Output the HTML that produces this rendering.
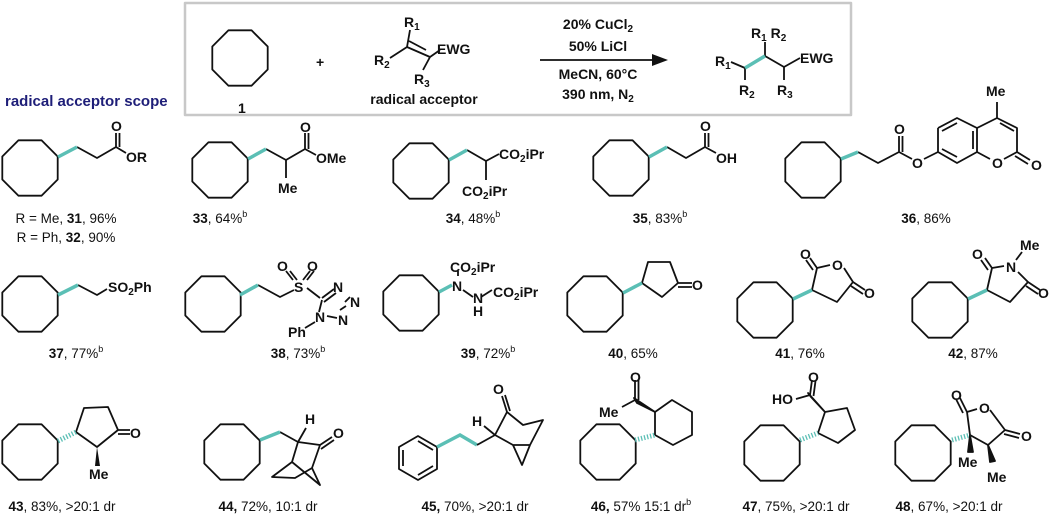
<!DOCTYPE html>
<html><head><meta charset="utf-8"><style>
html,body{margin:0;padding:0;background:#fff;}
svg{display:block;}
text{font-family:"Liberation Sans",Arial,sans-serif;fill:#111;}
.a{font-weight:bold;font-size:14px;}
.l{font-size:13.5px;}
.b{font-weight:bold;}
</style></head><body>
<svg width="1052" height="518" viewBox="0 0 1052 518" xmlns="http://www.w3.org/2000/svg">
<defs>
<polygon id="o" points="27.7,-11.5 11.5,-27.7 -11.5,-27.7 -27.7,-11.5 -27.7,11.5 -11.5,27.7 11.5,27.7 27.7,11.5" fill="none" stroke="#111" stroke-width="1.8"/>
</defs>
<g fill="none" stroke="#111" stroke-width="1.8" stroke-linejoin="round">
<rect x="185" y="3" width="666" height="112" stroke="#c8c8c8" stroke-width="2.5"/>
<use href="#o" x="240" y="58"/>
<path d="M390,58 L407,47 L430,57 L440,50 M407,47 L410,30 M430,57 L423,70 M409,41 L426,50"/>
<path d="M540,60 L655,60"/>
<path d="M731,62 L745,68 M745,68 L745,80 M765,56 L784,67 L800,58 M765,56 L765,42 M784,67 L784,80"/>
<path d="M745,68 L765,56" stroke="#5bbfb5" stroke-width="3.5"/>

<use href="#o" x="30" y="168"/>
<path d="M77,147 L97,158 L116,147 L126,153 M116,147 L116,133 M119.5,147 L119.5,133"/>
<use href="#o" x="220" y="170"/>
<path d="M266,149 L286,160 L305,149 L316,155 M286,160 L286,178 M305,149 L305,133 M308.5,149 L308.5,133"/>
<use href="#o" x="421" y="171"/>
<path d="M467,150 L486,161 L499,154 M486,161 L486,180"/>
<use href="#o" x="621" y="168"/>
<path d="M667,147 L686,158 L705,147 L716,153 M705,147 L705,133 M708.5,147 L708.5,133"/>
<use href="#o" x="813" y="170"/>
<path d="M858,152 L878,163 L899,152 L912,159 M899,152 L899,136 M902.5,152 L902.5,136 M924,159 L938,152"/>
<path d="M938,128 L957,118 L977,128 L977,152 L957,163 L938,152 L938,128 M942,131 L957,123 M973,131 L973,149 M942,149 L957,157"/>
<path d="M977,128 L997,118 L1017,128 L1017,152 L1004,159 M990,159 L977,152 M997,118 L997,102 M1000,123 L1014,131 M1017,152 L1030,160 M1015,156 L1028,164"/>

<use href="#o" x="30" y="304"/>
<path d="M78,285 L97,295 L107,289"/>
<use href="#o" x="213" y="304"/>
<path d="M258,285 L280,297 L294,290 M307,288 L320,298 M293,280 L286,271 M297,280 L290,271 M303,280 L310,271 M307,280 L314,271"/>
<path d="M322,298 L334,289 M324,302 L336,293 M322,300 L319,312 M327,316 L337,318 M345,302 L350,297 M340,310 L346,306 M315,322 L305,328"/>
<use href="#o" x="411" y="303"/>
<path d="M458,276 L458,271 M463,290 L473,297 M481,297 L492,290"/>
<use href="#o" x="595" y="304"/>
<path d="M642,283 L648,262 L670,262 L678,283 L662,297 L642,283 M678,283 L692,283 M678,287 L692,287"/>
<use href="#o" x="765" y="310"/>
<path d="M812,290 L817,268 L830,265 M844,268 L853,282 L837,302 L812,290 M817,268 L810,258 M813,270 L806,260 M853,282 L865,290 M851,286 L863,294"/>
<use href="#o" x="940" y="310"/>
<path d="M987,290 L992,268 L1004,266 M1018,272 L1028,282 L1010,302 L987,290 M992,268 L985,258 M988,270 L981,260 M1028,282 L1040,290 M1026,286 L1038,294 M1016,260 L1022,252"/>

<use href="#o" x="30" y="452"/>
<path d="M76,432 L84,408 L108,407 L118,430 L97,447 L76,432 M118,430 L130,430 M118,434 L130,434"/>
<use href="#o" x="232" y="452"/>
<path d="M280,432 L298,442 L306,428 M298,442 L320,445 L332,437 M321,449 L334,440 M298,442 L292,462 M320,445 L312,468 M292,462 L272,477 L295,478 L312,468 M292,462 L320,485 L312,468"/>
<polygon points="418,436 437,447 437,469 418,480 399,469 399,447"/>
<path d="M418,441 L433,450 M433,466 L418,475 M403,466 L403,450"/>
<path d="M495,435 L484,426 M495,435 L507,412 M507,412 L502,396 M510,411 L505,395 M507,412 L523,425 L543,420 L530,445 M495,435 L513,445 L530,445 M513,445 L522,465 L530,445"/>
<use href="#o" x="608" y="452"/>
<path d="M655,435 L655,412 L672,400 L692,412 L692,435 L673,445 L655,435 M635,400 L635,380 M638.5,400 L638.5,380 M635,400 L622,407"/>
<polygon points="655,412 634,398 637,403" fill="#111"/>
<use href="#o" x="772" y="453"/>
<path d="M818,433 L825,412 L847,408 L855,430 L838,443 L818,433 M810,395 L812,380 M813.5,396 L815.5,381 M810,395 L796,399"/>
<polygon points="825,412 808,393 811,397" fill="#111"/>
<use href="#o" x="923" y="453"/>
<path d="M970,435 L967,412 L977,409 M990,410 L1005,430 L988,445 L970,435 M967,412 L960,398 M963,413 L956,399 M1005,430 L1020,434 M1004,434 L1019,438"/>
<polygon points="970,435 968,452 973,452" fill="#111"/>
<polygon points="988,445 990,462 995,461" fill="#111"/>
</g>
<g stroke="#5bbfb5" stroke-width="3.5" fill="none">
<path d="M58,157 L77,147 M248,159 L266,149 M449,160 L467,150 M649,157 L667,147 M841,159 L858,152"/>
<path d="M58,295 L78,285 M240,295 L258,285 M439,292 L452,285 M623,293 L642,283 M793,299 L812,290 M968,299 L987,290"/>
<path d="M260,440 L280,432 M437,447 L460,435 L477,445" />
</g>
<path d="M477,445 L495,435" stroke="#111" stroke-width="1.8" fill="none"/>
<g stroke="#5bbfb5" stroke-width="5" fill="none" stroke-dasharray="1.3,1.8">
<path d="M58,441 L76,432 M635,440 L655,435 M800,440 L818,433 M952,440 L970,435"/>
</g>
<polygon points="97,447 95,466 100,466" fill="#111"/>
<polygon points="668,60 652,54 652,66" fill="#111"/>

<text class="a" x="316" y="67" font-size="16">+</text>
<text class="a" x="238" y="113">1</text>
<text class="a" x="404" y="27">R<tspan font-size="10" dy="3">1</tspan></text>
<text class="a" x="374" y="65">R<tspan font-size="10" dy="3">2</tspan></text>
<text class="a" x="437" y="54">EWG</text>
<text class="a" x="414" y="84">R<tspan font-size="10" dy="3">3</tspan></text>
<text class="a" x="424" y="104" text-anchor="middle">radical acceptor</text>
<text class="a" x="598" y="29" text-anchor="middle">20% CuCl<tspan font-size="10" dy="3">2</tspan></text>
<text class="a" x="598" y="51" text-anchor="middle">50% LiCl</text>
<text class="a" x="598" y="79" text-anchor="middle">MeCN, 60°C</text>
<text class="a" x="598" y="99" text-anchor="middle">390 nm, N<tspan font-size="10" dy="3">2</tspan></text>
<text class="a" x="715" y="66">R<tspan font-size="10" dy="3">1</tspan></text>
<text class="a" x="751" y="38">R<tspan font-size="10" dy="3">1</tspan><tspan dy="-3"> R</tspan><tspan font-size="10" dy="3">2</tspan></text>
<text class="a" x="800" y="63">EWG</text>
<text class="a" x="739" y="95">R<tspan font-size="10" dy="3">2</tspan></text>
<text class="a" x="777" y="95">R<tspan font-size="10" dy="3">3</tspan></text>
<text x="5" y="106" font-weight="bold" font-size="15" style="fill:#1e1e78">radical acceptor scope</text>

<text class="a" x="111" y="131">O</text>
<text class="a" x="126" y="162">OR</text>
<text class="a" x="300" y="132">O</text>
<text class="a" x="316" y="163">OMe</text>
<text class="a" x="278" y="193">Me</text>
<text class="a" x="499" y="159">CO<tspan font-size="10" dy="3">2</tspan><tspan dy="-3">iPr</tspan></text>
<text class="a" x="462" y="196">CO<tspan font-size="10" dy="3">2</tspan><tspan dy="-3">iPr</tspan></text>
<text class="a" x="700" y="131">O</text>
<text class="a" x="716" y="163">OH</text>
<text class="a" x="894" y="134">O</text>
<text class="a" x="912" y="168">O</text>
<text class="a" x="992" y="168">O</text>
<text class="a" x="1031" y="170">O</text>
<text class="a" x="986" y="96">Me</text>

<text class="a" x="108" y="292">SO<tspan font-size="10" dy="3">2</tspan><tspan dy="-3">Ph</tspan></text>
<text class="a" x="277" y="271">O</text>
<text class="a" x="307" y="271">O</text>
<text class="a" x="294" y="292">S</text>
<text class="a" x="333" y="292">N</text>
<text class="a" x="350" y="307">N</text>
<text class="a" x="338" y="325">N</text>
<text class="a" x="315" y="322">N</text>
<text class="a" x="288" y="337">Ph</text>
<text class="a" x="450" y="272">CO<tspan font-size="10" dy="3">2</tspan><tspan dy="-3">iPr</tspan></text>
<text class="a" x="452" y="291">N</text>
<text class="a" x="473" y="303">N</text>
<text class="a" x="473" y="316">H</text>
<text class="a" x="493" y="297">CO<tspan font-size="10" dy="3">2</tspan><tspan dy="-3">iPr</tspan></text>
<text class="a" x="692" y="290">O</text>
<text class="a" x="800" y="259">O</text>
<text class="a" x="832" y="270">O</text>
<text class="a" x="864" y="298">O</text>
<text class="a" x="972" y="259">O</text>
<text class="a" x="1006" y="272">N</text>
<text class="a" x="1020" y="250">Me</text>
<text class="a" x="1038" y="298">O</text>

<text class="a" x="130" y="438">O</text>
<text class="a" x="89" y="479">Me</text>
<text class="a" x="305" y="424">H</text>
<text class="a" x="333" y="438">O</text>
<text class="a" x="472" y="426">H</text>
<text class="a" x="493" y="394">O</text>
<text class="a" x="630" y="382">O</text>
<text class="a" x="599" y="417">Me</text>
<text class="a" x="808" y="382">O</text>
<text class="a" x="772" y="404">HO</text>
<text class="a" x="951" y="400">O</text>
<text class="a" x="979" y="413">O</text>
<text class="a" x="1021" y="441">O</text>
<text class="a" x="958" y="467">Me</text>
<text class="a" x="987" y="482">Me</text>

<text class="l" x="66" y="223" text-anchor="middle">R = Me, <tspan class="b">31</tspan>, 96%</text>
<text class="l" x="66" y="242" text-anchor="middle">R = Ph, <tspan class="b">32</tspan>, 90%</text>
<text class="l" x="220" y="223" text-anchor="middle"><tspan class="b">33</tspan>, 64%<tspan font-size="9" dy="-6">b</tspan></text>
<text class="l" x="473" y="223" text-anchor="middle"><tspan class="b">34</tspan>, 48%<tspan font-size="9" dy="-6">b</tspan></text>
<text class="l" x="660" y="223" text-anchor="middle"><tspan class="b">35</tspan>, 83%<tspan font-size="9" dy="-6">b</tspan></text>
<text class="l" x="926" y="223" text-anchor="middle"><tspan class="b">36</tspan>, 86%</text>
<text class="l" x="76" y="358" text-anchor="middle"><tspan class="b">37</tspan>, 77%<tspan font-size="9" dy="-6">b</tspan></text>
<text class="l" x="298" y="358" text-anchor="middle"><tspan class="b">38</tspan>, 73%<tspan font-size="9" dy="-6">b</tspan></text>
<text class="l" x="488" y="358" text-anchor="middle"><tspan class="b">39</tspan>, 72%<tspan font-size="9" dy="-6">b</tspan></text>
<text class="l" x="633" y="358" text-anchor="middle"><tspan class="b">40</tspan>, 65%</text>
<text class="l" x="800" y="358" text-anchor="middle"><tspan class="b">41</tspan>, 76%</text>
<text class="l" x="973" y="358" text-anchor="middle"><tspan class="b">42</tspan>, 87%</text>
<text class="l" x="62" y="511" text-anchor="middle"><tspan class="b">43</tspan>, 83%, &gt;20:1 dr</text>
<text class="l" x="268" y="511" text-anchor="middle"><tspan class="b">44,</tspan> 72%, 10:1 dr</text>
<text class="l" x="475" y="511" text-anchor="middle"><tspan class="b">45,</tspan> 70%, &gt;20:1 dr</text>
<text class="l" x="641" y="511" text-anchor="middle"><tspan class="b">46,</tspan> 57% 15:1 dr<tspan font-size="9" dy="-6">b</tspan></text>
<text class="l" x="796" y="511" text-anchor="middle"><tspan class="b">47</tspan>, 75%, &gt;20:1 dr</text>
<text class="l" x="949" y="511" text-anchor="middle"><tspan class="b">48</tspan>, 67%, &gt;20:1 dr</text>
</svg>
</body></html>
